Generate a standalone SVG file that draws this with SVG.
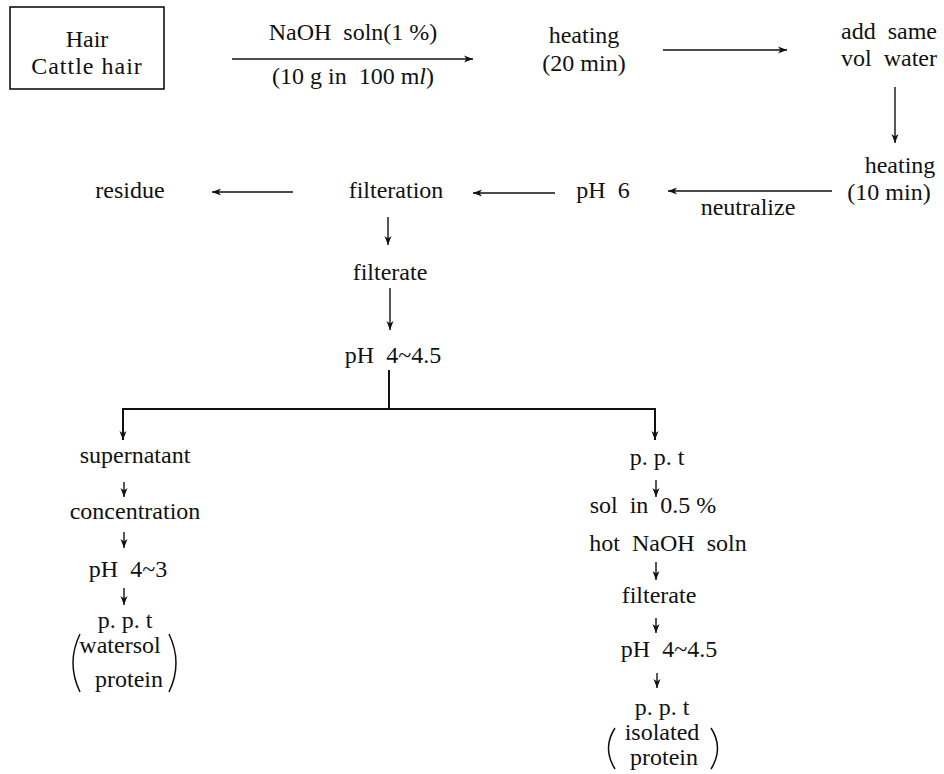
<svg xmlns="http://www.w3.org/2000/svg" width="944" height="774" viewBox="0 0 944 774">
<style>
text{font-family:"Liberation Serif","Times New Roman",serif;font-size:24px;fill:#111;text-anchor:middle;white-space:pre}
.ln{stroke:#111;stroke-width:1.4;fill:none}
.br{stroke:#111;stroke-width:2;fill:none}
.par{stroke:#111;stroke-width:1.5;fill:none}
</style>
<defs>
<marker id="ah" markerUnits="userSpaceOnUse" markerWidth="10" markerHeight="8" refX="9" refY="4" orient="auto">
<path d="M0,0.5 L9,4 L0,7.5 L2.5,4 z" fill="#111"/>
</marker>
</defs>
<rect width="944" height="774" fill="#fff"/>
<g id="connectors">
<line class="ln" x1="232" y1="59" x2="473" y2="59" marker-end="url(#ah)"/>
<line class="ln" x1="663" y1="50" x2="787" y2="50" marker-end="url(#ah)"/>
<line class="ln" x1="895" y1="87" x2="895" y2="143" marker-end="url(#ah)"/>
<line class="ln" x1="832" y1="191" x2="668" y2="191" marker-end="url(#ah)"/>
<line class="ln" x1="555" y1="193" x2="473" y2="193" marker-end="url(#ah)"/>
<line class="ln" x1="293" y1="192" x2="212" y2="192" marker-end="url(#ah)"/>
<line class="ln" x1="388" y1="217" x2="388" y2="245" marker-end="url(#ah)"/>
<line class="ln" x1="390" y1="288" x2="390" y2="330" marker-end="url(#ah)"/>
<line class="br" x1="389" y1="370" x2="389" y2="409"/>
<polyline class="br" points="123,440 123,409 655,409 655,440"/>
<line class="ln" x1="123" y1="420" x2="123" y2="440" marker-end="url(#ah)"/>
<line class="ln" x1="655" y1="420" x2="655" y2="440" marker-end="url(#ah)"/>
<line class="ln" x1="124" y1="482" x2="124" y2="497" marker-end="url(#ah)"/>
<line class="ln" x1="124" y1="532" x2="124" y2="548" marker-end="url(#ah)"/>
<line class="ln" x1="124" y1="588" x2="124" y2="605" marker-end="url(#ah)"/>
<line class="ln" x1="656" y1="480" x2="656" y2="497" marker-end="url(#ah)"/>
<line class="ln" x1="656" y1="562" x2="656" y2="580" marker-end="url(#ah)"/>
<line class="ln" x1="656" y1="618" x2="656" y2="633" marker-end="url(#ah)"/>
<line class="ln" x1="657" y1="673" x2="657" y2="688" marker-end="url(#ah)"/>
</g>
<g id="n-hair">
<rect x="10" y="7" width="154" height="82" fill="none" stroke="#111" stroke-width="1.6"/>
<text x="87" y="47">Hair</text>
<text x="87" y="74" letter-spacing="1">Cattle hair</text>
</g>
<g id="lbl-naoh">
<text x="353" y="40">NaOH  soln(1 %)</text>
<text x="353" y="84">(10 g in  100 m<tspan font-style="italic">l</tspan>)</text>
</g>
<g id="n-heating20">
<text x="584" y="43">heating</text>
<text x="584" y="71">(20 min)</text>
</g>
<g id="n-addwater">
<text x="889" y="39">add  same</text>
<text x="889" y="66">vol  water</text>
</g>
<g id="n-heating10">
<text x="900" y="173">heating</text>
<text x="889" y="200">(10 min)</text>
</g>
<g id="lbl-neutralize"><text x="748" y="215">neutralize</text></g>
<g id="n-ph6"><text x="603" y="198">pH  6</text></g>
<g id="n-filteration"><text x="396" y="198">filteration</text></g>
<g id="n-residue"><text x="130" y="198">residue</text></g>
<g id="n-filterate1"><text x="390" y="280">filterate</text></g>
<g id="n-ph45a"><text x="393" y="363">pH  4~4.5</text></g>
<g id="n-supernatant"><text x="135" y="463">supernatant</text></g>
<g id="n-concentration"><text x="135" y="519">concentration</text></g>
<g id="n-ph43"><text x="128" y="577">pH  4~3</text></g>
<g id="n-ppt-water">
<text x="125" y="628">p. p. t</text>
<text x="120" y="653">watersol</text>
<text x="129" y="687">protein</text>
<path class="par" d="M80,634 Q66,663 80,692"/>
<path class="par" d="M169,634 Q183,663 169,692"/>
</g>
<g id="n-ppt1"><text x="657" y="465">p. p. t</text></g>
<g id="n-sol">
<text x="653" y="513">sol  in  0.5 %</text>
<text x="668" y="551">hot  NaOH  soln</text>
</g>
<g id="n-filterate2"><text x="659" y="603">filterate</text></g>
<g id="n-ph45b"><text x="669" y="657">pH  4~4.5</text></g>
<g id="n-ppt-isolated">
<text x="662" y="715">p. p. t</text>
<text x="662" y="740">isolated</text>
<text x="664" y="765">protein</text>
<path class="par" d="M615,728 Q602,748 615,769"/>
<path class="par" d="M711,728 Q724,748 711,769"/>
</g>
</svg>
